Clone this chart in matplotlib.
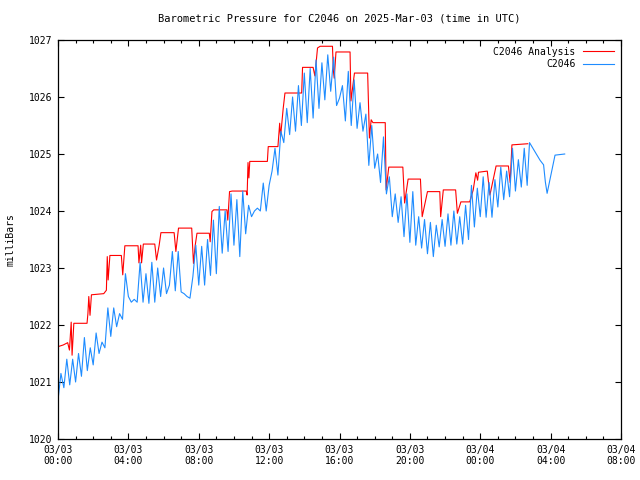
import numpy as np
import matplotlib
matplotlib.use('Agg')
import matplotlib.pyplot as plt
from matplotlib.ticker import MultipleLocator

# Analysis series (hours since 03/03 00:00 UTC, mbar)
red_hours = [0.0, 0.3, 0.55, 0.65, 0.75, 0.8, 0.9, 1.65, 1.7, 1.75, 1.82, 1.9,
             2.6, 2.75, 2.8, 2.85, 2.95, 3.6, 3.68, 3.8, 4.55, 4.6, 4.7, 4.75,
             4.85, 5.5, 5.6, 5.75, 5.85, 6.6, 6.7, 6.85, 7.6, 7.7, 7.8, 7.9,
             8.6, 8.65, 8.75, 8.85, 9.6, 9.65, 9.75, 9.9, 10.7, 10.75, 10.8, 10.85,
             10.9, 11.9, 11.95, 12.5, 12.6, 12.65, 12.8, 12.9, 13.85, 13.9, 14.5, 14.6,
             14.75, 14.9, 15.6, 15.65, 15.7, 15.8, 16.6, 16.65, 16.85, 17.6, 17.7, 17.8,
             17.9, 18.6, 18.65, 18.8, 19.6, 19.7, 19.9, 20.6, 20.7, 21.0, 21.7, 21.75,
             21.9, 22.6, 22.7, 22.9, 23.4, 23.6, 23.75, 23.85, 23.9, 24.4, 24.55, 24.9,
             25.6, 25.7, 25.8, 26.7]
red_vals = [1021.62, 1021.65, 1021.69, 1021.56, 1022.05, 1021.47, 1022.03, 1022.03, 1022.2, 1022.5, 1022.17, 1022.53,
            1022.55, 1022.61, 1023.2, 1022.79, 1023.22, 1023.22, 1022.88, 1023.39, 1023.39, 1023.09, 1023.4, 1023.09,
            1023.42, 1023.42, 1023.14, 1023.4, 1023.62, 1023.62, 1023.29, 1023.70, 1023.70, 1023.08, 1023.4, 1023.61,
            1023.61, 1023.46, 1023.99, 1024.02, 1024.02, 1023.84, 1024.34, 1024.35, 1024.35, 1024.28, 1024.85, 1024.58,
            1024.87, 1024.87, 1025.13, 1025.13, 1025.54, 1025.3, 1025.8, 1026.07, 1026.07, 1026.52, 1026.52, 1026.37,
            1026.86, 1026.89, 1026.89, 1026.47, 1026.33, 1026.79, 1026.79, 1025.93, 1026.42, 1026.42, 1025.28, 1025.6,
            1025.55, 1025.55, 1024.37, 1024.77, 1024.77, 1024.14, 1024.56, 1024.56, 1023.9, 1024.34, 1024.34, 1023.9,
            1024.37, 1024.37, 1023.96, 1024.16, 1024.16, 1024.37, 1024.67, 1024.54, 1024.68, 1024.7, 1024.28, 1024.79,
            1024.79, 1024.5, 1025.16, 1025.18]

# Observations, every 10 minutes from 00:00 until 26:40
obs_vals = [
    1020.68, 1021.15, 1020.9, 1021.4, 1020.95, 1021.4,
    1021.0, 1021.5, 1021.1, 1021.78, 1021.2, 1021.6,
    1021.3, 1021.86, 1021.5, 1021.7, 1021.6, 1022.3,
    1021.8, 1022.3, 1021.97, 1022.2, 1022.1, 1022.9,
    1022.5, 1022.4, 1022.45, 1022.4, 1023.1, 1022.4,
    1022.9, 1022.38, 1023.1, 1022.4, 1023.0, 1022.5,
    1023.0, 1022.55, 1022.7, 1023.29, 1022.6, 1023.29,
    1022.58, 1022.55, 1022.5, 1022.47, 1022.85, 1023.4,
    1022.7, 1023.38, 1022.7, 1023.5, 1022.87, 1023.84,
    1022.9, 1024.08, 1023.26, 1024.0, 1023.29, 1024.3,
    1023.4, 1024.2, 1023.2, 1024.35, 1023.6, 1024.1,
    1023.9, 1024.0, 1024.05, 1024.0, 1024.49, 1024.0,
    1024.45, 1024.7, 1025.1, 1024.63, 1025.4, 1025.2,
    1025.8, 1025.34, 1026.0, 1025.4, 1026.2, 1025.5,
    1026.42, 1025.55, 1026.5, 1025.63, 1026.65, 1025.8,
    1026.6, 1025.95, 1026.74, 1026.1, 1026.7, 1025.85,
    1025.98, 1026.2, 1025.58, 1026.45, 1025.5, 1026.3,
    1025.45, 1025.9, 1025.4, 1025.7, 1024.8, 1025.5,
    1024.75, 1025.0, 1024.5, 1025.3, 1024.3, 1024.6,
    1023.9, 1024.3, 1023.8, 1024.25, 1023.55, 1024.3,
    1023.45, 1024.34, 1023.4, 1023.9, 1023.35, 1023.85,
    1023.25, 1023.8, 1023.2, 1023.75, 1023.37, 1023.85,
    1023.38, 1023.95, 1023.4, 1024.0, 1023.42, 1023.9,
    1023.42, 1024.1, 1023.5, 1024.45, 1023.72, 1024.4,
    1023.9, 1024.6, 1023.89, 1024.5, 1023.89, 1024.55,
    1024.07, 1024.77, 1024.2, 1024.7, 1024.25, 1025.1,
    1024.35, 1024.9, 1024.42, 1025.1, 1024.45,
]
obs_hours = [i / 6.0 for i in range(len(obs_vals))]
# sparse tail of the observations
tail_hours = [26.8, 27.4, 27.6, 27.7, 27.8, 28.25, 28.8]
tail_vals = [1025.2, 1024.89, 1024.81, 1024.51, 1024.31, 1024.98, 1025.0]

xtick_labels = ['03/03\n00:00', '03/03\n04:00', '03/03\n08:00', '03/03\n12:00',
                '03/03\n16:00', '03/03\n20:00', '03/04\n00:00', '03/04\n04:00',
                '03/04\n08:00']

plt.rcParams['font.family'] = ['DejaVu Sans Mono']
plt.rcParams['font.size'] = 7

fig = plt.figure(figsize=(6.4, 4.8), dpi=100)
ax = fig.add_axes([58 / 640, 1 - 439 / 480, 563 / 640, 399 / 480])

ax.plot(red_hours, red_vals, color='#ff0000', lw=0.8, label='C2046 Analysis')
ax.plot(obs_hours + tail_hours, obs_vals + tail_vals, color='#1e8cff', lw=0.8, label='C2046')

ax.set_xlim(0, 32)
ax.set_ylim(1020, 1027)
ax.set_xticks(np.arange(0, 33, 4))
ax.set_xticklabels(xtick_labels)
ax.xaxis.set_minor_locator(MultipleLocator(1))
ax.set_yticks(np.arange(1020, 1028, 1))
ax.tick_params(which='both', direction='in', top=True, right=True, labelsize=7, pad=4)
ax.tick_params(which='major', length=4, width=0.8)
ax.tick_params(which='minor', length=2, width=0.8)
for s in ax.spines.values():
    s.set_linewidth(0.9)

ax.set_ylabel('milliBars', fontsize=7)
ax.yaxis.set_label_coords(-0.075, 0.5)
ax.set_title('Barometric Pressure for C2046 on 2025-Mar-03 (time in UTC)', fontsize=7.5, pad=13)

ax.legend(loc='upper right', frameon=False, markerfirst=False, fontsize=7,
          handlelength=3.2, borderaxespad=0.3, labelspacing=0.25)

fig.savefig('out.png', dpi=100)
